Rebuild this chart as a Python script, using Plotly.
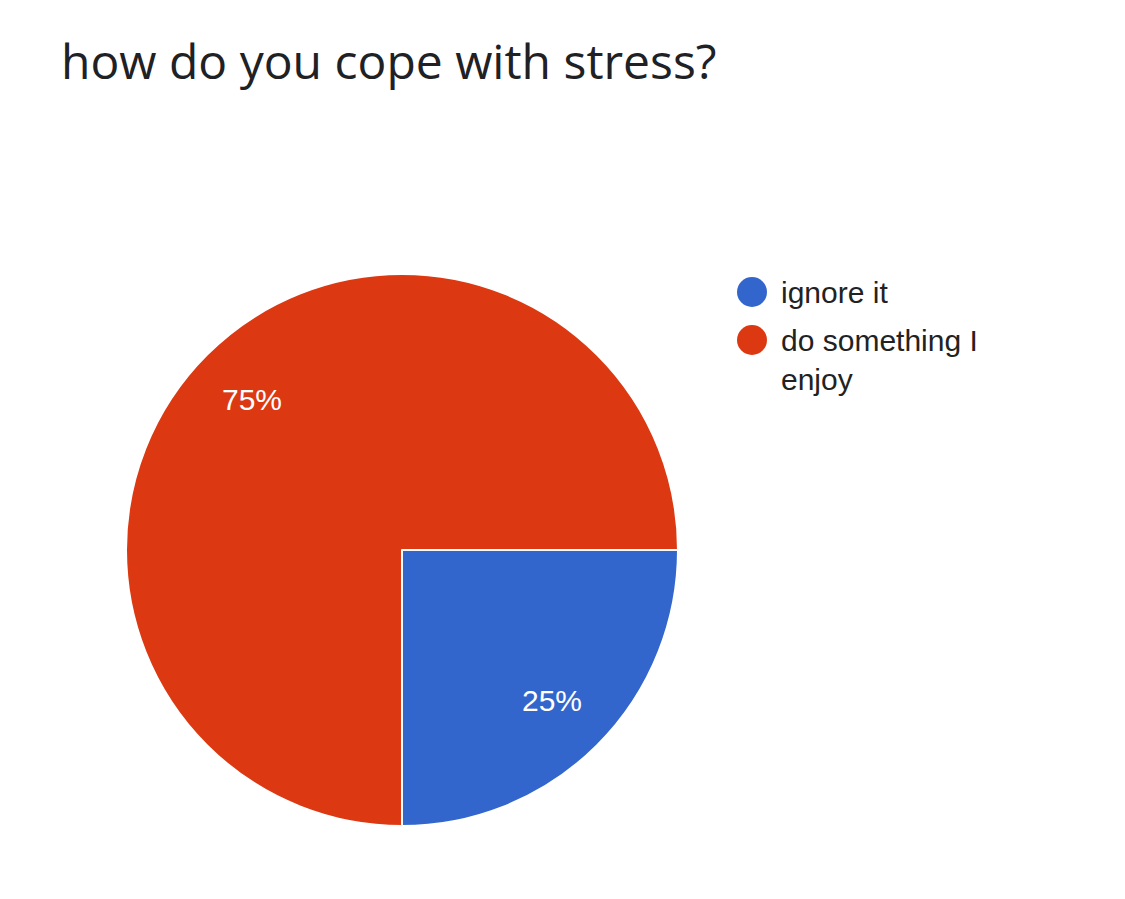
import math
import plotly.graph_objects as go

title_text = "how do you cope with stress?"
labels = ["ignore it", "do something I enjoy"]
legend_text = ["ignore it", "do something I<br>enjoy"]
values = [1, 3]
colors = ["#3366cc", "#dc3912"]

W, H = 1125, 899
def px(x):
    return x / W
def py(y):
    return 1 - y / H

# pie geometry in pixels
CX, CY, R = 402, 550, 276
START_DEG = 90  # first slice starts at 3 o'clock, clockwise

fig = go.Figure()
fig.add_trace(go.Pie(
    labels=labels,
    values=values,
    sort=False,
    direction="clockwise",
    rotation=START_DEG,
    marker=dict(colors=colors, line=dict(color="white", width=2)),
    textinfo="none",
    showlegend=False,
    hoverinfo="label+percent",
    domain=dict(x=[px(CX - R), px(CX + R)], y=[py(CY + R), py(CY - R)]),
))

annotations = [
    dict(text=title_text, x=px(59), y=py(60), xref="paper", yref="paper",
         xanchor="left", yanchor="middle", showarrow=False,
         font=dict(family="Open Sans", size=48, color="#202124")),
]

# percent labels at 0.77 of the radius, at each slice's mid-angle
total = sum(values)
cum = 0
for v in values:
    mid = START_DEG + 360 * (cum + v / 2) / total
    cum += v
    rr = 0.77 * R
    lx = CX + rr * math.sin(math.radians(mid))
    ly = CY - rr * math.cos(math.radians(mid))
    annotations.append(dict(text=f"{round(100 * v / total)}%", x=px(lx), y=py(ly),
                            xref="paper", yref="paper", xanchor="center",
                            yanchor="middle", showarrow=False,
                            font=dict(family="Liberation Sans, Arial", size=30,
                                      color="white")))

shapes = []
legend_y = [292, 340]
legend_text_y = [292, 360]
for i, (t, c) in enumerate(zip(legend_text, colors)):
    cy = legend_y[i]
    shapes.append(dict(type="circle", xref="paper", yref="paper",
                       x0=px(737), x1=px(767), y0=py(cy + 15), y1=py(cy - 15),
                       fillcolor=c, line=dict(width=0)))
    annotations.append(dict(text=t, x=px(779), y=py(legend_text_y[i]),
                            xref="paper", yref="paper", xanchor="left",
                            yanchor="middle", align="left", showarrow=False,
                            font=dict(family="Liberation Sans, Arial", size=30,
                                      color="#222222")))

fig.update_layout(
    width=W, height=H,
    margin=dict(l=0, r=0, t=0, b=0),
    paper_bgcolor="white", plot_bgcolor="white",
    annotations=annotations, shapes=shapes,
)
fig.write_html("out.html")
